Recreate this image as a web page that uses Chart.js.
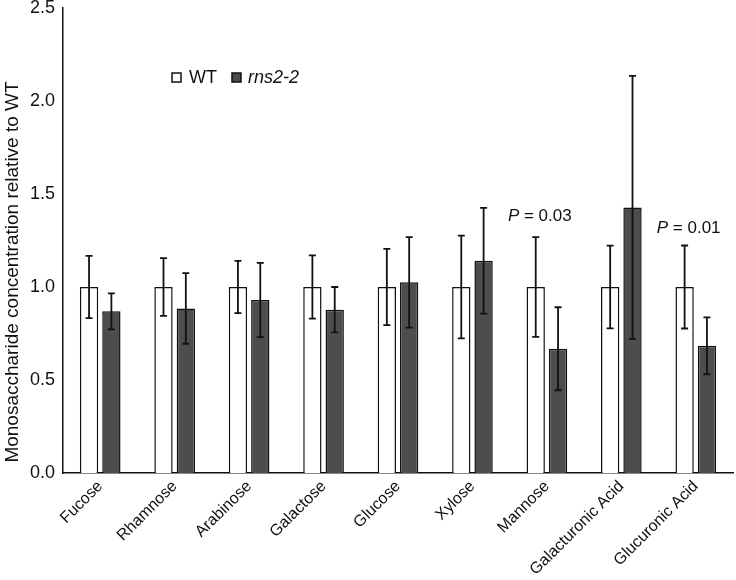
<!DOCTYPE html>
<html>
<head>
<meta charset="utf-8">
<script src="https://cdn.jsdelivr.net/npm/chart.js@4/dist/chart.umd.min.js"></script>
<style>
  html, body { margin: 0; padding: 0; background: #fff; }
  #wrap { width: 736px; height: 580px; }
</style>
</head>
<body>
<div id="wrap"><canvas id="myChart" width="736" height="580"></canvas></div>
<script>
// data
var sugars = ['Fucose', 'Rhamnose', 'Arabinose', 'Galactose', 'Glucose', 'Xylose', 'Mannose', 'Galacturonic Acid', 'Glucuronic Acid'];
var wtValues = [1, 1, 1, 1, 1, 1, 1, 1, 1];
var wtErrors = [0.167, 0.155, 0.14, 0.17, 0.205, 0.276, 0.268, 0.222, 0.223];
var rnsValues = [0.869, 0.885, 0.930, 0.878, 1.025, 1.141, 0.668, 1.428, 0.684];
var rnsErrors = [0.097, 0.19, 0.20, 0.122, 0.243, 0.284, 0.223, 0.707, 0.153];
var yTicks = [0, 0.5, 1.0, 1.5, 2.0, 2.5];
// p-value notes: category index, p and the y value the text sits at
var pNotes = [
  { index: 6, value: '0.03', level: 1.38 },
  { index: 8, value: '0.01', level: 1.315 }
];

var fontName = '"Liberation Sans", Arial, Helvetica, sans-serif';

// error bars, drawn over the bars
var errorBars = {
  id: 'errorBars',
  afterDatasetsDraw: function(chart) {
    var ctx = chart.ctx;
    var y = chart.scales.y;
    ctx.save();
    ctx.strokeStyle = '#111';
    ctx.lineWidth = 1.8;
    chart.data.datasets.forEach(function(ds, di) {
      var meta = chart.getDatasetMeta(di);
      meta.data.forEach(function(bar, i) {
        var v = ds.data[i];
        var e = ds.errors[i];
        var top = y.getPixelForValue(v + e);
        var bot = y.getPixelForValue(v - e);
        ctx.beginPath();
        ctx.moveTo(bar.x, top);
        ctx.lineTo(bar.x, bot);
        ctx.moveTo(bar.x - 3.5, top);
        ctx.lineTo(bar.x + 3.5, top);
        ctx.moveTo(bar.x - 3.5, bot);
        ctx.lineTo(bar.x + 3.5, bot);
        ctx.stroke();
      });
    });
    ctx.restore();
  }
};

// legend, y title and p-values
var extras = {
  id: 'extras',
  afterDraw: function(chart) {
    var ctx = chart.ctx;
    var x = chart.scales.x;
    var y = chart.scales.y;
    ctx.save();

    // y axis title
    ctx.translate(13, 272);
    ctx.rotate(-Math.PI / 2);
    ctx.fillStyle = '#111';
    ctx.font = '19px ' + fontName;
    ctx.textAlign = 'center';
    ctx.textBaseline = 'middle';
    ctx.fillText('Monosaccharide concentration relative to WT', 0, 0);
    ctx.restore();

    // legend
    ctx.save();
    ctx.textBaseline = 'middle';
    ctx.textAlign = 'left';
    ctx.lineWidth = 1.5;
    ctx.strokeStyle = '#111';
    ctx.fillStyle = '#fff';
    ctx.fillRect(172, 73, 9, 9);
    ctx.strokeRect(172, 73, 9, 9);
    ctx.fillStyle = '#4d4d4d';
    ctx.fillRect(232, 73, 9, 9);
    ctx.strokeRect(232, 73, 9, 9);
    ctx.fillStyle = '#111';
    ctx.font = '18px ' + fontName;
    ctx.fillText('WT', 189, 78);
    ctx.font = 'italic 18px ' + fontName;
    ctx.fillText('rns2-2', 248, 78);

    // p-values
    pNotes.forEach(function(n) {
      var cx = x.getPixelForValue(n.index);
      var cy = y.getPixelForValue(n.level);
      var sx = cx - 39;
      ctx.font = 'italic 17px ' + fontName;
      var pw = ctx.measureText('P').width;
      ctx.fillText('P', sx, cy);
      ctx.font = '17px ' + fontName;
      ctx.fillText(' = ' + n.value, sx + pw, cy);
    });
    ctx.restore();
  }
};

var ctx = document.getElementById('myChart');
var chart = new Chart(ctx, {
  type: 'bar',
  data: {
    labels: sugars,
    datasets: [{
      label: 'WT',
      data: wtValues,
      errors: wtErrors,
      backgroundColor: '#ffffff',
      borderColor: '#111',
      borderWidth: 1.5,
      categoryPercentage: 0.6,
      barPercentage: 0.82
    }, {
      label: 'rns2-2',
      data: rnsValues,
      errors: rnsErrors,
      backgroundColor: '#4d4d4d',
      borderColor: '#111',
      borderWidth: 1.5,
      categoryPercentage: 0.6,
      barPercentage: 0.82
    }]
  },
  options: {
    responsive: false,
    animation: false,
    layout: { padding: { top: 8, right: 3, left: 0, bottom: 0 } },
    plugins: {
      legend: { display: false },
      tooltip: { enabled: false }
    },
    scales: {
      x: {
        grid: { display: false, drawTicks: false },
        border: { color: '#111', width: 1.5 },
        ticks: {
          color: '#111',
          font: { family: fontName, size: 16 },
          maxRotation: 45,
          minRotation: 45,
          padding: 4
        },
        afterFit: function(scale) {
          scale.height = 107;
          scale.paddingLeft = 0;
          scale.paddingRight = 0;
        }
      },
      y: {
        min: 0,
        max: 2.5,
        afterBuildTicks: function(scale) {
          scale.ticks = yTicks.map(function(v) { return { value: v }; });
        },
        grid: { display: false, drawTicks: true, tickLength: 5, tickColor: '#111', tickWidth: 1.5 },
        border: { color: '#111', width: 1.5 },
        ticks: {
          color: '#111',
          font: { family: fontName, size: 18 },
          padding: 3,
          callback: function(v) { return Number(v).toFixed(1); }
        },
        afterFit: function(scale) {
          scale.width = 63;
          scale.paddingTop = 0;
          scale.paddingBottom = 0;
        }
      }
    }
  },
  plugins: [errorBars, extras]
});
</script>
</body>
</html>
